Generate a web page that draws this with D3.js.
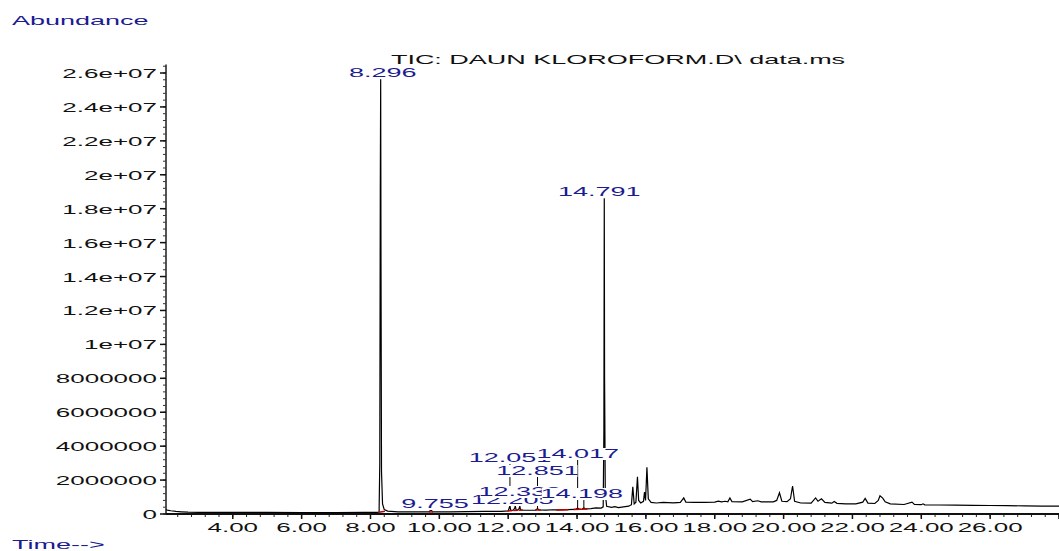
<!DOCTYPE html>
<html lang="en">
<head>
<meta charset="utf-8">
<script src="https://cdn.jsdelivr.net/npm/d3@7"></script>
<style>
    body { margin: 0; background: #ffffff; }
    text { font-family: "Liberation Sans", Arial, sans-serif; }
</style>
</head>
<body>
<script type="text/javascript">

    /* TIC trace : [retention time (min), abundance] */
    var tic = [
        [2.06, 2.5e5], [2.10, 2.3e5], [2.2, 1.9e5], [2.35, 1.5e5], [2.5, 1.3e5], [2.7, 1.1e5],
        [3.0, 1.0e5], [3.5, 0.95e5], [4.0, 0.9e5], [5.0, 0.9e5], [6.0, 0.85e5], [7.0, 0.85e5],
        [7.8, 0.9e5], [8.2, 0.95e5], [8.25, 1.2e5], [8.27, 3.0e6], [8.285, 1.9e7], [8.296, 2.56e7],
        [8.305, 1.5e7], [8.32, 2.5e6], [8.35, 6e5], [8.40, 2.6e5], [8.5, 1.7e5], [8.8, 1.3e5],
        [9.2, 1.2e5], [9.7, 1.2e5], [9.755, 2.4e5], [9.81, 1.2e5], [10.3, 1.3e5], [10.8, 1.4e5],
        [11.3, 1.5e5], [11.8, 1.6e5], [12.0, 1.8e5], [12.03, 3.5e5], [12.051, 5.0e5], [12.07, 2.5e5],
        [12.1, 2.0e5], [12.15, 2.3e5], [12.19, 3.5e5], [12.205, 4.8e5], [12.23, 2.5e5], [12.27, 2.3e5],
        [12.31, 3.0e5], [12.338, 4.4e5], [12.36, 2.4e5], [12.45, 2.2e5], [12.6, 2.2e5], [12.8, 2.3e5],
        [12.851, 3.2e5], [12.9, 2.4e5], [13.1, 2.3e5], [13.3, 2.5e5], [13.5, 2.4e5], [13.7, 2.6e5],
        [13.95, 2.7e5], [14.017, 3.4e5], [14.07, 2.8e5], [14.15, 2.9e5], [14.198, 3.6e5], [14.25, 3.0e5],
        [14.4, 3.2e5], [14.55, 3.6e5], [14.7, 3.5e5], [14.76, 4.2e5], [14.78, 5e6], [14.791, 1.86e7],
        [14.80, 8e6], [14.82, 1.2e6], [14.86, 4.5e5], [15.0, 3.9e5], [15.1, 4.3e5], [15.2, 3.8e5],
        [15.35, 4.2e5], [15.5, 4.6e5], [15.58, 5.5e5], [15.62, 1.6e6], [15.66, 6e5], [15.71, 7e5],
        [15.755, 2.2e6], [15.79, 8e5], [15.85, 6.5e5], [15.93, 7.5e5], [15.96, 1.3e6], [15.99, 8e5],
        [16.03, 2.75e6], [16.07, 9e5], [16.15, 6.8e5], [16.3, 6.5e5], [16.5, 6.8e5], [16.8, 6.6e5],
        [17.0, 6.8e5], [17.1, 9.5e5], [17.16, 7e5], [17.4, 6.8e5], [17.7, 6.9e5], [18.0, 7.0e5],
        [18.1, 7.6e5], [18.2, 7.1e5], [18.3, 7.5e5], [18.38, 7.2e5], [18.44, 9.5e5], [18.5, 7.3e5],
        [18.8, 7.2e5], [19.03, 8.8e5], [19.1, 7.3e5], [19.25, 7.8e5], [19.35, 7.2e5], [19.7, 7.2e5],
        [19.8, 8e5], [19.88, 1.25e6], [19.95, 7.5e5], [20.1, 7.3e5], [20.2, 9e5], [20.26, 1.65e6],
        [20.32, 7.5e5], [20.5, 6.5e5], [20.8, 6.4e5], [20.93, 9.5e5], [21.0, 7.5e5], [21.1, 9e5],
        [21.2, 6.8e5], [21.4, 6.4e5], [21.47, 7.4e5], [21.55, 6.3e5], [21.8, 6.0e5], [22.1, 6.0e5],
        [22.3, 7e5], [22.37, 9.2e5], [22.45, 6.4e5], [22.65, 6.2e5], [22.75, 8e5], [22.8, 1.08e6],
        [22.88, 9.4e5], [22.95, 7.2e5], [23.1, 6.0e5], [23.5, 5.6e5], [23.73, 7.0e5], [23.8, 5.7e5],
        [24.0, 5.5e5], [24.05, 6e5], [24.1, 5.4e5], [24.5, 5.3e5], [25.0, 5.2e5], [25.5, 5.1e5],
        [26.0, 5.0e5], [26.5, 4.9e5], [27.0, 4.8e5], [27.5, 4.7e5], [28.0, 4.6e5]
    ];

    /* integration baselines (red) : [t1, v1, t2, v2] */
    var baselines = [
        [8.25, 1.0e5, 8.42, 1.6e5], [9.70, 1.2e5, 9.82, 1.2e5], [11.98, 1.7e5, 12.12, 2.0e5],
        [12.15, 2.1e5, 12.28, 2.2e5], [12.30, 2.2e5, 12.42, 2.3e5], [12.78, 2.3e5, 12.95, 2.4e5],
        [13.40, 2.4e5, 13.75, 2.5e5], [13.90, 2.7e5, 14.12, 2.8e5], [14.14, 2.8e5, 14.30, 2.9e5]
    ];

    /* labelled peaks */
    var peakNames = ["8.296", "14.791", "12.051", "14.017", "12.851", "9.755", "12.205", "12.338", "14.198"];
    var peakTimes = [8.296, 14.791, 12.051, 14.017, 12.851, 9.755, 12.205, 12.338, 14.198];
    var peakHeights = [2.56e7, 1.86e7, 5.0e5, 3.4e5, 3.2e5, 2.4e5, 4.8e5, 4.4e5, 3.6e5];

    /* axis ticks */
    var xTicks = [4, 6, 8, 10, 12, 14, 16, 18, 20, 22, 24, 26, 28];
    var xTickLabels = ["4.00", "6.00", "8.00", "10.00", "12.00", "14.00", "16.00", "18.00", "20.00", "22.00", "24.00", "26.00", ""];
    var yTicks = [0, 2e6, 4e6, 6e6, 8e6, 1e7, 1.2e7, 1.4e7, 1.6e7, 1.8e7, 2e7, 2.2e7, 2.4e7, 2.6e7];
    var yTickLabels = ["0", "2000000", "4000000", "6000000", "8000000", "1e+07", "1.2e+07", "1.4e+07",
        "1.6e+07", "1.8e+07", "2e+07", "2.2e+07", "2.4e+07", "2.6e+07"];

    var svgWidth = 1059;
    var svgHeight = 551;
    var blue = "#1b1b92";
    var stretch = 2;   // 글자를 가로로 늘린 인쇄 모양

    var svg = d3.select("body").append("svg")
            .attr("width", svgWidth)
            .attr("height", svgHeight);

    /* scales */
    var x = d3.scaleLinear()
            .domain([2.06, 28.0])
            .range([166, 1059]);

    var y = d3.scaleLinear()
            .domain([0, 2.6e7])
            .range([514, 73]);

    /* stretched text helper */
    function label(g, str, px, py, anchor, size, color) {
        return g.append("text")
                .attr("transform", "translate(" + px + "," + py + ") scale(" + stretch + ",1)")
                .attr("text-anchor", anchor)
                .style("font-size", size + "px")
                .style("fill", color)
                .text(str);
    }

    /* y axis */
    var yAxis = svg.append("g");
    yAxis.append("line")
            .attr("x1", x(2.06)).attr("x2", x(2.06))
            .attr("y1", y(0)).attr("y2", y(2.65e7))
            .style("stroke", "#555").style("stroke-width", 2);

    var yMinor = d3.range(0, 2.65e7, 4e5);
    yAxis.selectAll(".ymin")
            .data(yMinor)
            .enter().append("line")
            .attr("x1", 163).attr("x2", 166)
            .attr("y1", function(d) { return y(d); })
            .attr("y2", function(d) { return y(d); })
            .style("stroke", "#333").style("stroke-width", 1);

    yAxis.selectAll(".ymaj")
            .data(yTicks)
            .enter().append("line")
            .attr("x1", 160).attr("x2", 166)
            .attr("y1", function(d) { return y(d); })
            .attr("y2", function(d) { return y(d); })
            .style("stroke", "#111").style("stroke-width", 1.5);

    yTicks.forEach(function(d, i) {
        label(yAxis, yTickLabels[i], 157, y(d) + 5, "end", 13, "#111");
    });

    /* x axis */
    var xAxis = svg.append("g");
    var xMinor = d3.range(2.4, 28.01, 0.4);
    xAxis.selectAll(".xmin")
            .data(xMinor)
            .enter().append("line")
            .attr("x1", function(d) { return x(d); })
            .attr("x2", function(d) { return x(d); })
            .attr("y1", 514).attr("y2", 517)
            .style("stroke", "#222").style("stroke-width", 1);

    xAxis.selectAll(".xmaj")
            .data(xTicks)
            .enter().append("line")
            .attr("x1", function(d) { return x(d); })
            .attr("x2", function(d) { return x(d); })
            .attr("y1", 514).attr("y2", 519)
            .style("stroke", "#111").style("stroke-width", 1.5);

    xAxis.append("line")
            .attr("x1", x(2.06)).attr("x2", 1059)
            .attr("y1", y(0)).attr("y2", y(0))
            .style("stroke", "#111").style("stroke-width", 2);

    xTicks.forEach(function(d, i) {
        label(xAxis, xTickLabels[i], x(d), 532, "middle", 13, "#111");
    });

    /* TIC line */
    var line = d3.line()
            .x(function(d) { return x(d[0]); })
            .y(function(d) { return y(d[1]); });

    svg.append("path")
            .datum(tic)
            .attr("d", line)
            .style("fill", "none")
            .style("stroke", "#000")
            .style("stroke-width", 1.2);

    /* red integration baselines */
    svg.selectAll(".base")
            .data(baselines)
            .enter().append("line")
            .attr("x1", function(d) { return x(d[0]); })
            .attr("y1", function(d) { return y(d[1]); })
            .attr("x2", function(d) { return x(d[2]); })
            .attr("y2", function(d) { return y(d[3]); })
            .style("stroke", "#c00000").style("stroke-width", 1.5);

    /* peak labels : baseline offsets for stacked labels (px) */
    var labelY = { "8.296": 77, "14.791": 196, "12.051": 462, "14.017": 458, "12.851": 475,
        "9.755": 508, "12.205": 504, "12.338": 496, "14.198": 498 };
    var labelDx = { "8.296": 2, "14.791": -5, "12.051": 0, "14.017": 0, "12.851": 0,
        "9.755": 4, "12.205": -3, "12.338": 0, "14.198": -2 };

    var ann = svg.append("g");

    /* leader lines first, label boxes cover them */
    peakNames.forEach(function(n, i) {
        var px = x(peakTimes[i]);
        ann.append("line")
                .attr("x1", px).attr("x2", px)
                .attr("y1", labelY[n] + 2)
                .attr("y2", y(peakHeights[i]))
                .style("stroke", "#000").style("stroke-width", 1);
    });

    peakNames.forEach(function(n, i) {
        var px = x(peakTimes[i]) + labelDx[n];
        var w = n.length * 13;
        ann.append("rect")
                .attr("x", px - w / 2 - 1)
                .attr("y", labelY[n] - 10)
                .attr("width", w + 2)
                .attr("height", 12)
                .style("fill", "#fff");
        label(ann, n, px, labelY[n], "middle", 13.5, blue);
    });

    /* titles */
    label(svg, "Abundance", 12, 25, "start", 13.5, blue);
    label(svg, "Time-->", 12, 549, "start", 13.5, blue);
    label(svg, "TIC: DAUN KLOROFORM.D\\ data.ms", 618, 64, "middle", 13.5, "#111");

</script>
</body>
</html>
